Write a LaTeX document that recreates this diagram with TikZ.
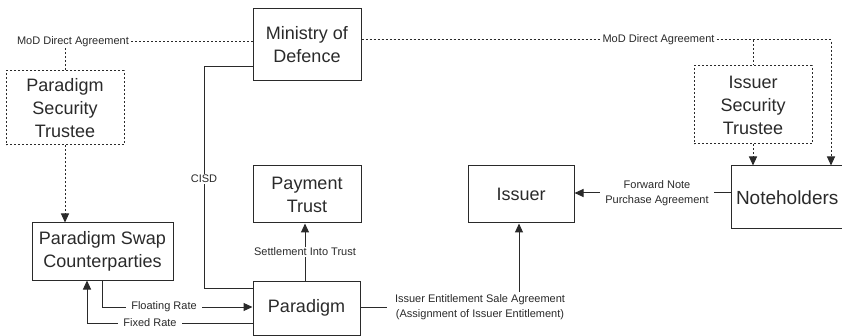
\documentclass[tikz,border=0pt]{standalone}
\usepackage{fontspec}
\setmainfont{Liberation Sans}
\usetikzlibrary{arrows.meta}
\definecolor{ink}{HTML}{2A2A2A}
\tikzset{
  box/.style={draw=ink, line width=1pt, text=ink, align=center, inner sep=0pt,
    font=\fontsize{18}{23}\selectfont},
  dbox/.style={box, dash pattern=on 2pt off 2pt},
  conn/.style={draw=ink, line width=1pt},
  dconn/.style={conn, dash pattern=on 2pt off 2pt},
  tip/.style={-{Triangle[length=9pt,width=8pt]}},
  lbl/.style={text=ink, align=center, fill=white, inner xsep=5pt, inner ysep=1pt,
    font=\fontsize{11}{15.5}\selectfont},
}
\begin{document}
\begin{tikzpicture}[x=1pt,y=-1pt]
\useasboundingbox (0,0) rectangle (842,336);
\clip (0,0) rectangle (842,336);
% boxes
\node[box, minimum width=108pt, minimum height=72pt] (mod) at (307,45) {Ministry of\\Defence};
\node[dbox, minimum width=118pt, minimum height=74pt] (pst) at (65,108) {Paradigm\\Security\\Trustee};
\node[dbox, minimum width=118pt, minimum height=78pt] (ist) at (753,105) {Issuer\\Security\\Trustee};
\node[box, minimum width=108pt, minimum height=57pt] (pt) at (307,194.5) {Payment\\Trust};
\node[box, minimum width=106pt, minimum height=57pt] (issuer) at (521,194.5) {Issuer};
\node[box, minimum height=63pt, text width=140pt, align=left, inner xsep=5pt,
  font=\fontsize{19}{23}\selectfont] (note) at (806,197.5) {Noteholders};
\node[box, minimum width=141pt, minimum height=57pt] (psc) at (102.5,251.5) {Paradigm Swap\\Counterparties};
\node[box, minimum width=107pt, minimum height=54pt] (par) at (306.5,308) {Paradigm};
% MoD direct agreement (left)
\node[lbl, inner xsep=2pt] (mdaL) at (73,42) {MoD Direct Agreement};
\draw[dconn] (mod.west |- 0,42) -- (mdaL.east);
\draw[dconn] (mdaL.south -| pst.north) -- (pst.north);
\draw[dconn, tip] (pst.south) -- (pst.south |- psc.north);
% MoD direct agreement (right)
\node[lbl, inner xsep=2pt] (mdaR) at (658.5,40) {MoD Direct Agreement};
\coordinate (rc) at (831,40);
\coordinate (ic) at (753,40);
\draw[dconn] (mod.east |- 0,40) -- (mdaR.west);
\draw[dconn, tip] (mdaR.east) -- (rc) -- (rc |- note.north);
\draw[dconn] (ic) -- (ist.north);
\draw[dconn, tip] (ist.south) -- (ist.south |- note.north);
% CISD
\coordinate (c1) at (204,67);
\coordinate (c2) at (204,288);
\draw[conn] (mod.west |- c1) -- (c1) -- (c2) -- (par.west |- c2);
\node[lbl, inner xsep=1pt] (cisd) at (204,179) {CISD};
% Settlement
\draw[conn, tip] (par.north -| 305,0) -- (pt.south -| 305,0)
  node[lbl, midway] (set) {Settlement Into Trust};
% Floating / fixed
\coordinate (f1) at (102,307);
\draw[conn, tip] (psc.south -| f1) -- (f1) -- (par.west |- f1);
\node[lbl] (flt) at (164,307) {Floating Rate};
\coordinate (x1) at (87,323);
\draw[conn, tip] (par.west |- x1) -- (x1) -- (psc.south -| x1);
\node[lbl] (fix) at (150,323) {Fixed Rate};
% Issuer entitlement
\coordinate (e1) at (519,307);
\draw[conn, tip] (par.east |- e1) -- (e1) -- (issuer.south -| e1);
\node[lbl, inner xsep=8pt, inner ysep=2pt] (ent) at (480,307) {Issuer Entitlement Sale Agreement\\(Assignment of Issuer Entitlement)};
% Forward note
\draw[conn, tip] (note.west |- 0,193) -- (issuer.east |- 0,193);
\node[lbl] (fwd) at (657,193) {Forward Note\\Purchase Agreement};
\end{tikzpicture}
\end{document}
